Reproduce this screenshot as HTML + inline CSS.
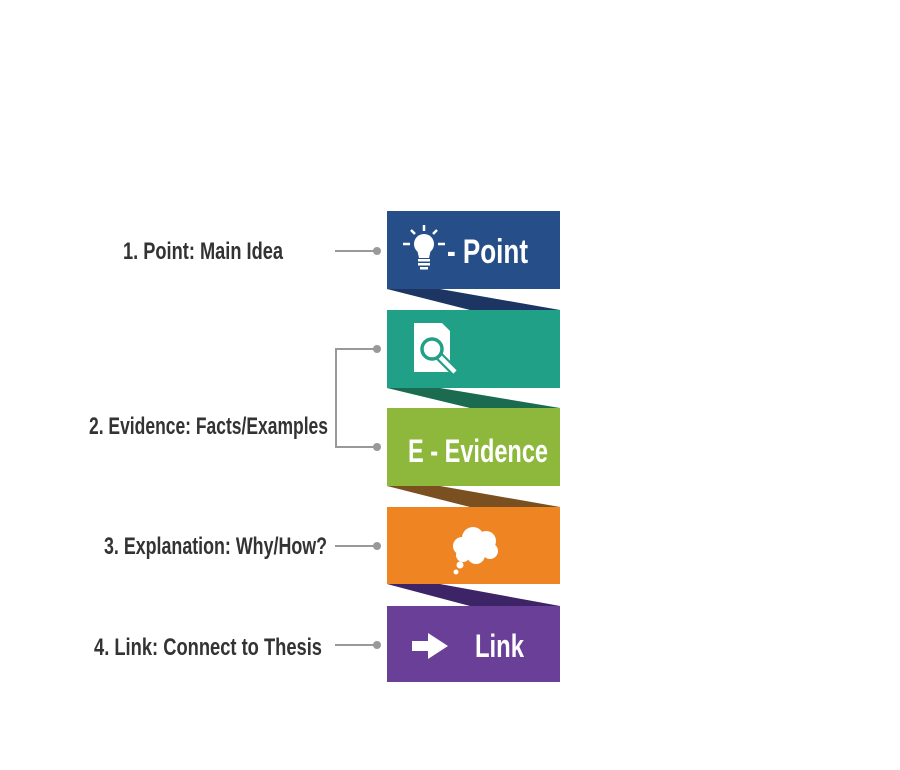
<!DOCTYPE html>
<html><head><meta charset="utf-8"><style>body{margin:0;background:#fff}svg{display:block}</style></head>
<body>
<svg width="900" height="770" viewBox="0 0 900 770" xmlns="http://www.w3.org/2000/svg" font-family="Liberation Sans, sans-serif" font-weight="bold">
<rect width="900" height="770" fill="#fff"/>
<polygon points="387,289 440,289 560,310 470,310" fill="#1c3562"/>
<polygon points="387,388 440,388 560,408 470,408" fill="#1a6b50"/>
<polygon points="387,486 440,486 560,507 470,507" fill="#7a5020"/>
<polygon points="387,584 440,584 560,606 470,606" fill="#3d2466"/>
<rect x="387" y="211" width="173" height="78" fill="#264f8a"/>
<rect x="387" y="310" width="173" height="78" fill="#20a086"/>
<rect x="387" y="408" width="173" height="78" fill="#8db83c"/>
<rect x="387" y="507" width="173" height="77" fill="#ef8422"/>
<rect x="387" y="606" width="173" height="76" fill="#6a3f98"/>
<g fill="#fff" stroke="#fff">
<circle cx="424" cy="244" r="10" stroke="none"/>
<polygon points="417,249 431,249 429,258 419,258" stroke="none"/>
<rect x="418" y="259" width="12" height="2.5" stroke="none"/><rect x="418" y="263" width="12" height="2.5" stroke="none"/><rect x="420" y="267" width="8" height="2.5" stroke="none"/>
<line x1="403" y1="244" x2="410" y2="244" stroke-width="2.5"/><line x1="438" y1="244" x2="445" y2="244" stroke-width="2.5"/>
<line x1="424" y1="225" x2="424" y2="231" stroke-width="2.5"/><line x1="411" y1="230" x2="415" y2="234" stroke-width="2.5"/><line x1="437" y1="230" x2="433" y2="234" stroke-width="2.5"/>
</g>
<text x="447" y="263" font-size="34" fill="#fff" textLength="81" lengthAdjust="spacingAndGlyphs">- Point</text>
<path d="M414,323 H442 L450,331 V372 H414 Z" fill="#fff"/>
<line x1="439" y1="356" x2="455" y2="372" stroke="#20a086" stroke-width="9"/>
<line x1="439" y1="356" x2="455" y2="372" stroke="#fff" stroke-width="4.5"/>
<circle cx="432" cy="349" r="10" fill="#fff" stroke="#20a086" stroke-width="3.5"/>
<text x="408" y="462" font-size="32" fill="#fff" textLength="140" lengthAdjust="spacingAndGlyphs">E - Evidence</text>
<g fill="#fff"><circle cx="462" cy="546" r="9"/><circle cx="473" cy="538" r="11"/><circle cx="486" cy="541" r="10"/><circle cx="490" cy="551" r="8"/><circle cx="476" cy="555" r="9"/><circle cx="463" cy="555" r="7"/><circle cx="460" cy="565" r="3.5"/><circle cx="456" cy="572" r="2.5"/></g>
<polygon points="412,641 428,641 428,633 448,646 428,659 428,651 412,651" fill="#fff"/>
<text x="475" y="657" font-size="32" fill="#fff" textLength="49" lengthAdjust="spacingAndGlyphs">Link</text>
<g stroke="#999" stroke-width="2" fill="none">
<line x1="335" y1="251" x2="377" y2="251"/>
<polyline points="377,349 336,349 336,447 377,447"/>
<line x1="335" y1="546" x2="377" y2="546"/>
<line x1="335" y1="645" x2="377" y2="645"/>
</g>
<g fill="#999"><circle cx="377" cy="251" r="4"/><circle cx="377" cy="349" r="4"/><circle cx="377" cy="447" r="4"/><circle cx="377" cy="546" r="4"/><circle cx="377" cy="645" r="4"/></g>
<g fill="#333" font-size="24">
<text x="123" y="259" textLength="160" lengthAdjust="spacingAndGlyphs">1. Point: Main Idea</text>
<text x="89" y="434" textLength="239" lengthAdjust="spacingAndGlyphs">2. Evidence: Facts/Examples</text>
<text x="104" y="554" textLength="223" lengthAdjust="spacingAndGlyphs">3. Explanation: Why/How?</text>
<text x="94" y="655" textLength="228" lengthAdjust="spacingAndGlyphs">4. Link: Connect to Thesis</text>
</g>
</svg>
</body></html>
